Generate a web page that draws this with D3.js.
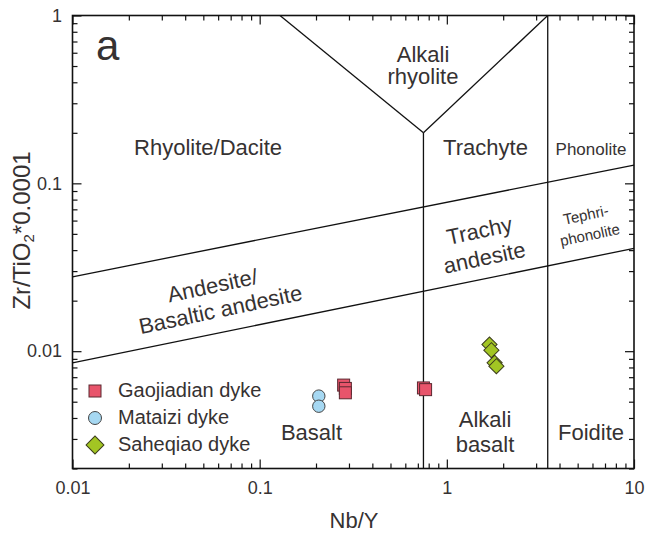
<!DOCTYPE html>
<html>
<head>
<meta charset="utf-8">
<script src="https://cdn.jsdelivr.net/npm/d3@7"></script>
<style>
body { margin: 0; background: #fff; }
text { font-family: "Liberation Sans", Arial, sans-serif; fill: #363232; }
</style>
</head>
<body>
<script>
// values (Nb/Y vs Zr/TiO2*0.0001)
var gaoNbY = [0.281, 0.287, 0.287, 0.75, 0.77];
var gaoZr = [0.00628, 0.0060, 0.00565, 0.00604, 0.0059];
var matNbY = [0.207, 0.207];
var matZr = [0.0054, 0.0047];
var sahNbY = [1.69, 1.73, 1.80, 1.84];
var sahZr = [0.01096, 0.01014, 0.00853, 0.00814];

var xMajor = [0.01, 0.1, 1, 10];
var xTickLabels = ['0.01', '0.1', '1', '10'];
var yMajor = [0.01, 0.1, 1];
var yTickLabels = ['0.01', '0.1', '1'];

var legendNames = ['Gaojiadian dyke', 'Mataizi dyke', 'Saheqiao dyke'];

// field boundaries, each a list of [Nb/Y, Zr/TiO2*0.0001]
var boundaries = [
    [[0.75, 0.002], [0.75, 0.2]],
    [[0.75, 0.2], [0.1284, 1]],
    [[0.75, 0.2], [3.46, 1]],
    [[3.46, 0.002], [3.46, 1]],
    [[0.01, 0.02775], [10, 0.1285]],
    [[0.01, 0.00853], [10, 0.041]]
];

var svgWidth = 649;
var svgHeight = 540;
var plot = { left: 72.5, right: 634, top: 15.5, bottom: 468.5 };

var svg = d3.select('body').append('svg')
    .attr('width', svgWidth).attr('height', svgHeight);

var xScale = d3.scaleLog().domain([0.01, 10]).range([plot.left, plot.right]);
var yScale = d3.scaleLog().domain([0.002, 1]).range([plot.bottom, plot.top]);

// boundary lines
var line = d3.line().x(d => xScale(d[0])).y(d => yScale(d[1]));
svg.append('g').selectAll('path')
    .data(boundaries)
    .enter()
    .append('path')
    .attr('d', line)
    .attr('fill', 'none')
    .attr('stroke', '#111')
    .attr('stroke-width', 1.3);

// field names
var fields = [
    { t: 'Rhyolite/Dacite', x: 208, y: 155, s: 22, r: 0 },
    { t: 'Alkali', x: 423, y: 62, s: 22, r: 0 },
    { t: 'rhyolite', x: 423, y: 84, s: 22, r: 0 },
    { t: 'Trachyte', x: 485.5, y: 155, s: 22, r: 0 },
    { t: 'Phonolite', x: 591, y: 155, s: 17, r: 0 },
    { t: 'Andesite/', x: 214, y: 293, s: 22, r: -12 },
    { t: 'Basaltic andesite', x: 222, y: 317, s: 22, r: -12 },
    { t: 'Trachy', x: 481, y: 238, s: 22, r: -12 },
    { t: 'andesite', x: 486, y: 265, s: 22, r: -12 },
    { t: 'Tephri-', x: 587, y: 220, s: 15, r: -12 },
    { t: 'phonolite', x: 591, y: 240, s: 15, r: -12 },
    { t: 'Basalt', x: 311.5, y: 440, s: 22, r: 0 },
    { t: 'Alkali', x: 485, y: 427, s: 22, r: 0 },
    { t: 'basalt', x: 485, y: 452, s: 22, r: 0 },
    { t: 'Foidite', x: 591, y: 440, s: 22, r: 0 }
];
svg.append('g').selectAll('text')
    .data(fields)
    .enter()
    .append('text')
    .attr('text-anchor', 'middle')
    .attr('font-size', d => d.s)
    .attr('transform', d => `translate(${d.x},${d.y}) rotate(${d.r})`)
    .text(d => d.t);

// panel letter
svg.append('text').attr('x', 96).attr('y', 60).attr('font-size', 42).text('a');

// symbols
var sq = { fill: '#e8546b', stroke: '#5b2830' };
var ci = { fill: '#a6d8f2', stroke: '#454545' };
var di = { fill: '#a2c523', stroke: '#3b3b1c' };
var diamond = size => d3.symbol().type(d3.symbolSquare).size(size)();

var points = svg.append('g');
points.selectAll('rect')
    .data(gaoNbY)
    .enter()
    .append('rect')
    .attr('x', (d, i) => xScale(d) - 6)
    .attr('y', (d, i) => yScale(gaoZr[i]) - 6)
    .attr('width', 12).attr('height', 12)
    .attr('fill', sq.fill).attr('stroke', sq.stroke).attr('stroke-width', 1);

points.selectAll('circle')
    .data(matNbY)
    .enter()
    .append('circle')
    .attr('cx', d => xScale(d))
    .attr('cy', (d, i) => yScale(matZr[i]))
    .attr('r', 6.2)
    .attr('fill', ci.fill).attr('stroke', ci.stroke).attr('stroke-width', 1);

points.selectAll('path')
    .data(sahNbY)
    .enter()
    .append('path')
    .attr('d', diamond(115))
    .attr('transform', (d, i) => `translate(${xScale(d)},${yScale(sahZr[i])}) rotate(45)`)
    .attr('fill', di.fill).attr('stroke', di.stroke).attr('stroke-width', 1);

// legend
var legend = svg.append('g');
legend.append('rect').attr('x', 89).attr('y', 385).attr('width', 12).attr('height', 12)
    .attr('fill', sq.fill).attr('stroke', sq.stroke);
legend.append('circle').attr('cx', 95).attr('cy', 418).attr('r', 6.5)
    .attr('fill', ci.fill).attr('stroke', ci.stroke);
legend.append('path').attr('d', diamond(160))
    .attr('transform', 'translate(95,445) rotate(45)')
    .attr('fill', di.fill).attr('stroke', di.stroke);
legend.selectAll('text')
    .data(legendNames)
    .enter()
    .append('text')
    .attr('x', 118)
    .attr('y', (d, i) => 397 + i * 27)
    .attr('font-size', 20)
    .text(d => d);

// frame
svg.append('rect')
    .attr('x', plot.left).attr('y', plot.top)
    .attr('width', plot.right - plot.left).attr('height', plot.bottom - plot.top)
    .attr('fill', 'none').attr('stroke', '#111').attr('stroke-width', 1.6);

// ticks, all pointing inward
var xMinor = xScale.ticks().filter(d => xMajor.indexOf(d) < 0);
var yMinor = yScale.ticks().filter(d => yMajor.indexOf(d) < 0 && Math.abs(Math.log10(d) % 1) > 1e-9);

function addAxis(axis, tx, ty) {
    var g = svg.append('g').attr('transform', `translate(${tx},${ty})`).call(axis);
    g.select('.domain').remove();
    g.selectAll('line').attr('stroke', '#111').attr('stroke-width', 1.2);
    g.selectAll('text').attr('font-size', 18).attr('fill', '#231f20');
    return g;
}

addAxis(d3.axisBottom(xScale).tickValues(xMajor).tickSizeInner(-9).tickSizeOuter(0)
    .tickPadding(13).tickFormat((d, i) => xTickLabels[i]), 0, plot.bottom);
addAxis(d3.axisBottom(xScale).tickValues(xMinor).tickSizeInner(-5).tickSizeOuter(0)
    .tickFormat(''), 0, plot.bottom);
addAxis(d3.axisTop(xScale).tickValues(xMajor).tickSizeInner(-9).tickSizeOuter(0)
    .tickFormat(''), 0, plot.top);
addAxis(d3.axisTop(xScale).tickValues(xMinor).tickSizeInner(-5).tickSizeOuter(0)
    .tickFormat(''), 0, plot.top);

addAxis(d3.axisLeft(yScale).tickValues(yMajor).tickSizeInner(-9).tickSizeOuter(0)
    .tickPadding(10.5).tickFormat((d, i) => yTickLabels[i]), plot.left, 0);
addAxis(d3.axisLeft(yScale).tickValues(yMinor).tickSizeInner(-5).tickSizeOuter(0)
    .tickFormat(''), plot.left, 0);
addAxis(d3.axisRight(yScale).tickValues(yMajor).tickSizeInner(-9).tickSizeOuter(0)
    .tickFormat(''), plot.right, 0);
addAxis(d3.axisRight(yScale).tickValues(yMinor).tickSizeInner(-5).tickSizeOuter(0)
    .tickFormat(''), plot.right, 0);

// axis titles
svg.append('text')
    .attr('x', 354).attr('y', 528)
    .attr('text-anchor', 'middle')
    .attr('font-size', 22)
    .text('Nb/Y');

var yTitle = svg.append('text')
    .attr('transform', 'translate(30,230.5) rotate(-90)')
    .attr('text-anchor', 'middle')
    .attr('font-size', 24);
yTitle.append('tspan').text('Zr/TiO');
yTitle.append('tspan').attr('font-size', 15).attr('dy', 4).text('2');
yTitle.append('tspan').attr('dy', -4).text('*0.0001');
</script>
</body>
</html>
